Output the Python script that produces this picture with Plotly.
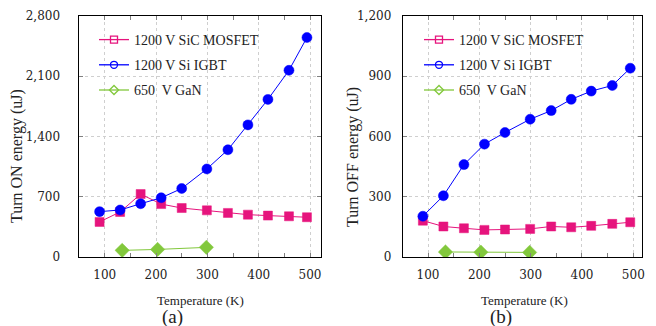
import plotly.graph_objects as go

# ---- data ----
temps = [90, 130, 170, 210, 250, 299, 340, 379, 418, 459, 494]
gan_temps = [134, 203, 298]

on_mosfet = [408, 523, 731, 615, 569, 542, 512, 492, 481, 473, 462]
on_igbt = [527, 546, 619, 688, 796, 1023, 1246, 1535, 1831, 2169, 2550]
on_gan = [77, 88, 112]

off_mosfet = [181, 152, 143, 135, 137, 140, 152, 148, 155, 165, 173]
off_igbt = [203, 305, 460, 562, 620, 686, 729, 785, 826, 854, 940]
off_gan = [25, 24, 23]

series_names = ["1200 V SiC MOSFET", "1200 V Si IGBT", "650  V GaN"]
x_ticks = [100, 200, 300, 400, 500]
on_ticks = [0, 700, 1400, 2100, 2800]
off_ticks = [0, 300, 600, 900, 1200]

PINK = "#E6147D"
BLUE = "#0000FF"
GREEN = "#82C83C"
SERIF = "Liberation Serif"

fig = go.Figure()

styles = [
    (PINK, "square", "square-open", 9),
    (BLUE, "circle", "circle-open", 10),
    (GREEN, "diamond", "diamond-open", 11),
]

panels = [
    ("x", "y", "legend", [(temps, on_mosfet), (temps, on_igbt), (gan_temps, on_gan)]),
    ("x2", "y2", "legend2", [(temps, off_mosfet), (temps, off_igbt), (gan_temps, off_gan)]),
]

for xa, ya, lg, data in panels:
    for (xs, ys), (col, sym, osym, sz), name in zip(data, styles, series_names):
        fig.add_trace(go.Scatter(
            x=xs, y=ys, xaxis=xa, yaxis=ya, mode="lines+markers",
            line=dict(color=col, width=1),
            marker=dict(symbol=sym, size=sz, color=col, opacity=1, line=dict(width=0.5, color=col)),
            showlegend=False, hoverinfo="skip"))
    for i, ((col, sym, osym, sz), name) in enumerate(zip(styles, series_names)):
        fig.add_trace(go.Scatter(
            x=[None], y=[None], xaxis=xa, yaxis=ya, mode="lines+markers",
            line=dict(color=col, width=1.3),
            marker=dict(symbol=osym, size=7, color=col, line=dict(width=1.3, color=col)),
            name=name, legend=lg, legendgroup=f"{lg}{i}", showlegend=True))

W, H = 656, 326

def xd(a, b):
    return [a / W, b / W]

ydom = [(H - 257) / H, (H - 16) / H]

axis_common = dict(
    showline=True, linecolor="black", linewidth=1, mirror="ticks",
    ticks="inside", ticklen=4, tickcolor="#808080", automargin=False,
    showgrid=True, gridcolor="#cfcfcf", griddash="dot", gridwidth=1,
    zeroline=False, tickfont=dict(family="DejaVu Serif", size=12, color="#222"),
)

fig.update_layout(
    width=W, height=H, autosize=False,
    margin=dict(l=0, r=0, t=0, b=0),
    paper_bgcolor="white", plot_bgcolor="white",
    xaxis=dict(domain=xd(78.5, 320.7), range=[48.9, 520.8], anchor="y",
               tickvals=x_ticks, ticklabelstandoff=7,
               minor=dict(dtick=50, tick0=0, ticks="inside", ticklen=4, tickcolor="#808080", showgrid=False),
               **axis_common),
    yaxis=dict(domain=ydom, range=[0, 2800], anchor="x",
               tickvals=on_ticks, tickformat=",d", ticklabelstandoff=15,
               **axis_common),
    xaxis2=dict(domain=xd(402.7, 642.3), range=[50.7, 517.5], anchor="y2",
                tickvals=x_ticks, ticklabelstandoff=7,
                minor=dict(dtick=50, tick0=0, ticks="inside", ticklen=4, tickcolor="#808080", showgrid=False),
                **axis_common),
    yaxis2=dict(domain=ydom, range=[0, 1200], anchor="x2",
                tickvals=off_ticks, tickformat=",d", ticklabelstandoff=8,
                **axis_common),
    legend=dict(x=94 / W, y=1 - 24 / H, xanchor="left", yanchor="top",
                bgcolor="rgba(0,0,0,0)", borderwidth=0, traceorder="grouped",
                tracegroupgap=4, font=dict(family=SERIF, size=14, color="#222")),
    legend2=dict(x=419 / W, y=1 - 24 / H, xanchor="left", yanchor="top",
                 bgcolor="rgba(0,0,0,0)", borderwidth=0, traceorder="grouped",
                 tracegroupgap=4, font=dict(family=SERIF, size=14, color="#222")),
)

ann_font = dict(family=SERIF, color="#222")
annotations = [
    dict(text="Turn ON energy (uJ)", x=17, y=156, textangle=-90, size=16),
    dict(text="Turn OFF energy (uJ)", x=353, y=157, textangle=-90, size=16),
    dict(text="Temperature (K)", x=200, y=300, textangle=0, size=13),
    dict(text="Temperature (K)", x=524, y=300, textangle=0, size=13),
    dict(text="(a)", x=172, y=317, textangle=0, size=19),
    dict(text="(b)", x=501, y=317, textangle=0, size=19),
]
for a in annotations:
    fig.add_annotation(
        text=a["text"], x=a["x"] / W, y=1 - a["y"] / H, xref="paper", yref="paper",
        xanchor="center", yanchor="middle", showarrow=False, textangle=a["textangle"],
        font=dict(size=a["size"], **ann_font))

fig.write_html("out.html")
